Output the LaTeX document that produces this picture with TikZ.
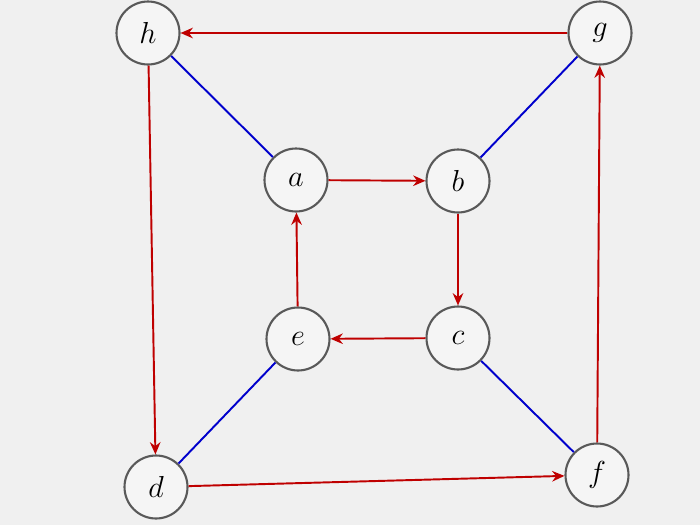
\documentclass[tikz,border=0pt]{standalone}
\usetikzlibrary{arrows.meta}
\begin{document}
\begin{tikzpicture}[x=0.02cm,y=-0.02cm,
  vert/.style={circle,draw=black!65,line width=1.2pt,fill=gray!8,minimum size=1.26cm,inner sep=0pt,font=\LARGE},
  redarrow/.style={draw=red!75!black,line width=1.1pt,-{Stealth[length=7pt,width=6pt]}},
  blueline/.style={draw=blue!80!black,line width=1.1pt}]
\fill[gray!12] (0,0) rectangle (700,525);
\useasboundingbox (0,0) rectangle (700,525);
\node[vert] (h) at (148,33) {$h$};
\node[vert] (g) at (600,33) {$g$};
\node[vert] (a) at (296,180) {$a$};
\node[vert] (b) at (458,181) {$b$};
\node[vert] (e) at (298,339) {$e$};
\node[vert] (c) at (458,338) {$c$};
\node[vert] (d) at (156,487) {$d$};
\node[vert] (f) at (597,475) {$f$};
\draw[redarrow] (g) -- (h);
\draw[redarrow] (h) -- (d);
\draw[redarrow] (d) -- (f);
\draw[redarrow] (f) -- (g);
\draw[redarrow] (a) -- (b);
\draw[redarrow] (b) -- (c);
\draw[redarrow] (c) -- (e);
\draw[redarrow] (e) -- (a);
\draw[blueline] (h) -- (a);
\draw[blueline] (b) -- (g);
\draw[blueline] (e) -- (d);
\draw[blueline] (c) -- (f);
\end{tikzpicture}
\end{document}
